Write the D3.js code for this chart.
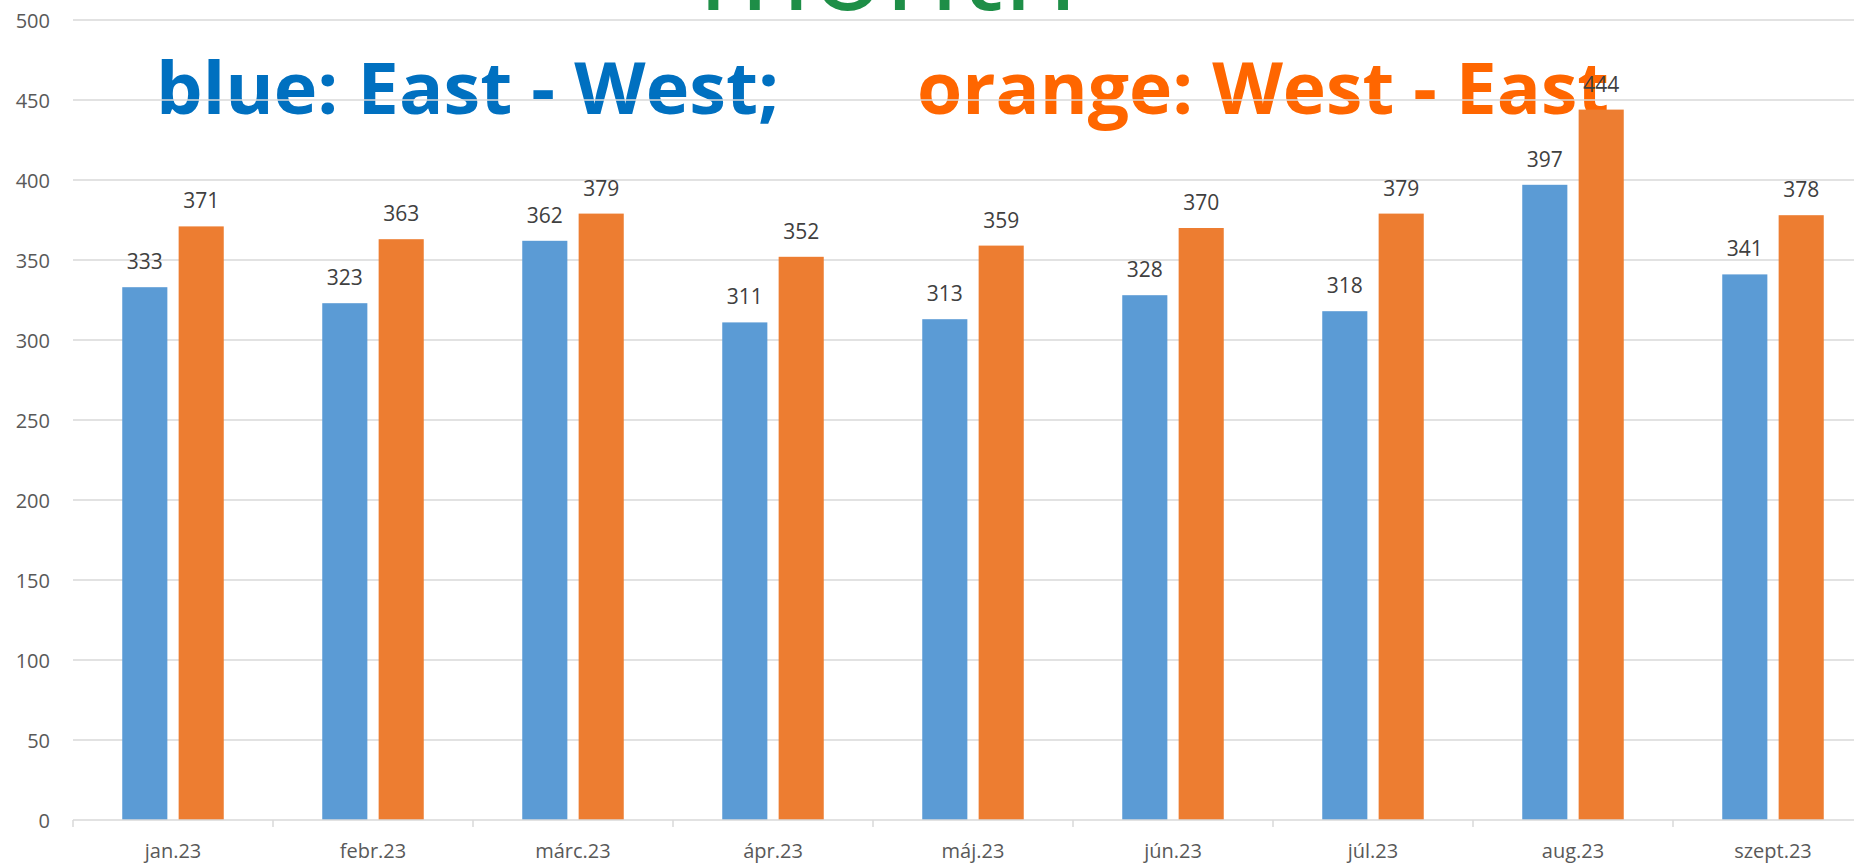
<!DOCTYPE html>
<html>
<head>
<meta charset="utf-8">
<script src="https://cdn.jsdelivr.net/npm/d3@7"></script>
<style>
    html, body { margin: 0; padding: 0; background: #fff; overflow: hidden; }
    svg { display: block; font-family: 'Open Sans', sans-serif; }
</style>
</head>
<body>
<svg width="1854" height="865"></svg>
<script>
const months = ['jan.23', 'febr.23', 'márc.23', 'ápr.23', 'máj.23', 'jún.23', 'júl.23', 'aug.23', 'szept.23'];
const seriesNames = ['East - West', 'West - East'];
const eastWest = [333, 323, 362, 311, 313, 328, 318, 397, 341];
const westEast = [371, 363, 379, 352, 359, 370, 379, 444, 378];
const yTicks = [0, 50, 100, 150, 200, 250, 300, 350, 400, 450, 500];

const svg = d3.select('svg');
const margin = { left: 73, right: 1873, top: 20, bottom: 820 };
const colors = ['#5B9BD5', '#ED7D31'];

const x0 = d3.scaleBand().domain(months).range([margin.left, margin.right]).padding(0);
const x1 = d3.scaleBand().domain(seriesNames)
    .range([x0.bandwidth() / 2 - 50.75, x0.bandwidth() / 2 + 50.75])
    .paddingInner(0.2);
const y = d3.scaleLinear().domain([0, 500]).range([margin.bottom, margin.top]);

// big title texts sit behind the grid
svg.append('text')
    .attr('x', 698).attr('y', 10)
    .attr('fill', '#1E8E47')
    .attr('font-size', '118px')
    .attr('textLength', 380)
    .attr('lengthAdjust', 'spacingAndGlyphs')
    .text('month');

svg.append('text')
    .attr('x', 156).attr('y', 114)
    .attr('fill', '#0070C0')
    .attr('font-size', '71px')
    .attr('font-weight', 700)
    .attr('textLength', 623)
    .attr('lengthAdjust', 'spacingAndGlyphs')
    .text('blue: East - West;');

svg.append('text')
    .attr('x', 917).attr('y', 114)
    .attr('fill', '#FF6600')
    .attr('font-size', '71px')
    .attr('font-weight', 700)
    .attr('textLength', 692)
    .attr('lengthAdjust', 'spacingAndGlyphs')
    .text('orange: West - East');

// gridlines
svg.append('g')
    .selectAll('line')
    .data(yTicks.filter(d => d > 0))
    .join('line')
    .attr('x1', margin.left).attr('x2', 1854)
    .attr('y1', d => y(d)).attr('y2', d => y(d))
    .attr('stroke', '#D9D9D9')
    .attr('stroke-width', 1.5);

// y labels
svg.append('g')
    .selectAll('text')
    .data(yTicks)
    .join('text')
    .attr('x', 50)
    .attr('y', d => y(d))
    .attr('text-anchor', 'end')
    .attr('dominant-baseline', 'central')
    .attr('fill', '#595959')
    .attr('font-size', '20px')
    .text(d => d);

// bars
const groups = svg.append('g')
    .selectAll('g')
    .data(months)
    .join('g')
    .attr('transform', d => `translate(${x0(d)},0)`);

groups.selectAll('rect')
    .data((m, i) => [eastWest[i], westEast[i]].map((v, j) => ({ key: seriesNames[j], value: v, idx: j })))
    .join('rect')
    .attr('x', d => x1(d.key))
    .attr('y', d => y(d.value))
    .attr('width', x1.bandwidth())
    .attr('height', d => y(0) - y(d.value))
    .attr('fill', d => colors[d.idx]);

groups.selectAll('text')
    .data((m, i) => [eastWest[i], westEast[i]].map((v, j) => ({ key: seriesNames[j], value: v })))
    .join('text')
    .attr('x', d => x1(d.key) + x1.bandwidth() / 2)
    .attr('y', d => y(d.value) - 18)
    .attr('text-anchor', 'middle')
    .attr('fill', '#404040')
    .attr('font-size', '21px')
    .text(d => d.value);

// x axis
const xAxis = svg.append('g');
xAxis.append('line')
    .attr('x1', margin.left).attr('x2', 1854)
    .attr('y1', y(0)).attr('y2', y(0))
    .attr('stroke', '#D9D9D9')
    .attr('stroke-width', 1.5);

xAxis.selectAll('line.tick')
    .data(months.concat(['end']))
    .join('line')
    .attr('class', 'tick')
    .attr('x1', (d, i) => margin.left + i * x0.step())
    .attr('x2', (d, i) => margin.left + i * x0.step())
    .attr('y1', y(0)).attr('y2', y(0) + 7)
    .attr('stroke', '#D9D9D9')
    .attr('stroke-width', 1.5);

xAxis.selectAll('text')
    .data(months)
    .join('text')
    .attr('x', d => x0(d) + x0.bandwidth() / 2)
    .attr('y', 858)
    .attr('text-anchor', 'middle')
    .attr('fill', '#595959')
    .attr('font-size', '20px')
    .text(d => d);
</script>
</body>
</html>
